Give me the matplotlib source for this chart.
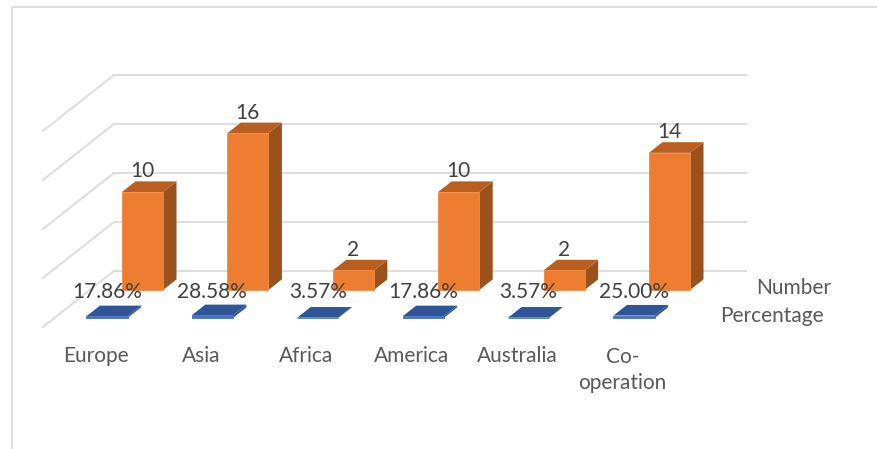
import matplotlib
matplotlib.use("Agg")
import matplotlib.pyplot as plt
from matplotlib.patches import Polygon

categories = ["Europe", "Asia", "Africa", "America", "Australia", "Co-\noperation"]
number = [10, 16, 2, 10, 2, 14]
percentage = [17.86, 28.58, 3.57, 17.86, 3.57, 25.00]
y_ticks = [0, 5, 10, 15, 20]

plt.rcParams['font.family'] = ['Lato', 'DejaVu Sans']

# pixel scale of the projection
PX_CAT = 105.4
PX_VAL = 9.8
X0 = 95.6
Y0 = 327
# how far the full floor depth shifts things, in data units
DEPTH_X = 71 / PX_CAT
DEPTH_Y = 56 / PX_VAL
BAR_W = 0.195
BAR_D = 0.19
D_PCT = 0.16
D_NUM = 0.66
FONT = 15

fig = plt.figure(figsize=(8.77, 4.49), dpi=100)
ax = fig.add_axes([0, 0, 1, 1])
ax.set_xlim(-X0 / PX_CAT, (877 - X0) / PX_CAT)
ax.set_ylim((Y0 - 449) / PX_VAL, Y0 / PX_VAL)
ax.axis('off')


def proj(x, v, d):
    return x + DEPTH_X * d, v + DEPTH_Y * d


def draw_bar(i, value, d, front, top, side, edge):
    x0, x1 = i - BAR_W, i + BAR_W
    d1 = d + BAR_D
    ax.add_patch(Polygon([proj(x1, 0, d), proj(x1, 0, d1), proj(x1, value, d1), proj(x1, value, d)],
                         facecolor=side, edgecolor='none', zorder=3))
    ax.add_patch(Polygon([proj(x0, value, d), proj(x1, value, d), proj(x1, value, d1), proj(x0, value, d1)],
                         facecolor=top, edgecolor='none', zorder=3))
    ax.add_patch(Polygon([proj(x0, 0, d), proj(x1, 0, d), proj(x1, value, d), proj(x0, value, d)],
                         facecolor=front, edgecolor=edge, linewidth=0.6, zorder=4))


# gridlines: side wall then back wall
for t in y_ticks:
    px, py = zip(proj(-0.5, t, 0), proj(-0.5, t, 1), proj(5.5, t, 1))
    ax.plot(px, py, color='#DEDEDE', linewidth=1.5, zorder=1, solid_joinstyle='miter')

for i, val in enumerate(percentage):
    draw_bar(i, val / 100, D_PCT, '#4472C4', '#2F5597', '#2F5597', '#4472C4')
    x, y = proj(i, 0, D_PCT)
    ax.text(x, y + 2.66, f"{val:.2f}%", ha='center', va='center', fontsize=FONT,
            color='#404040', zorder=6)

for i, val in enumerate(number):
    draw_bar(i, val, D_NUM, '#ED7D31', '#B85F1F', '#99521B', '#F08A45')
    x, y = proj(i, val, D_NUM)
    ax.text(x, y + 2.1, str(val), ha='center', va='center', fontsize=FONT, color='#404040', zorder=6)

# category labels along the front of the floor
for i, name in enumerate(categories):
    y = -4.39 if '\n' in name else -3.0
    ax.text(i, y, name, ha='center', va='center', multialignment='center', fontsize=FONT,
            color='#595959', linespacing=1.35)

# series labels along the depth axis
for name, d in (("Percentage", D_PCT), ("Number", D_NUM)):
    x, y = proj(5.82, 0.2, d)
    ax.text(x, y, name, ha='left', va='center', fontsize=FONT, color='#595959')

# chart frame, cut off by the picture on the right and bottom
ax.plot([12 / 877, 12 / 877, 1], [0, 1 - 7 / 449, 1 - 7 / 449], transform=ax.transAxes,
        color='#DCDCDC', linewidth=1.4, clip_on=False)

fig.savefig('out.png', dpi=100)
